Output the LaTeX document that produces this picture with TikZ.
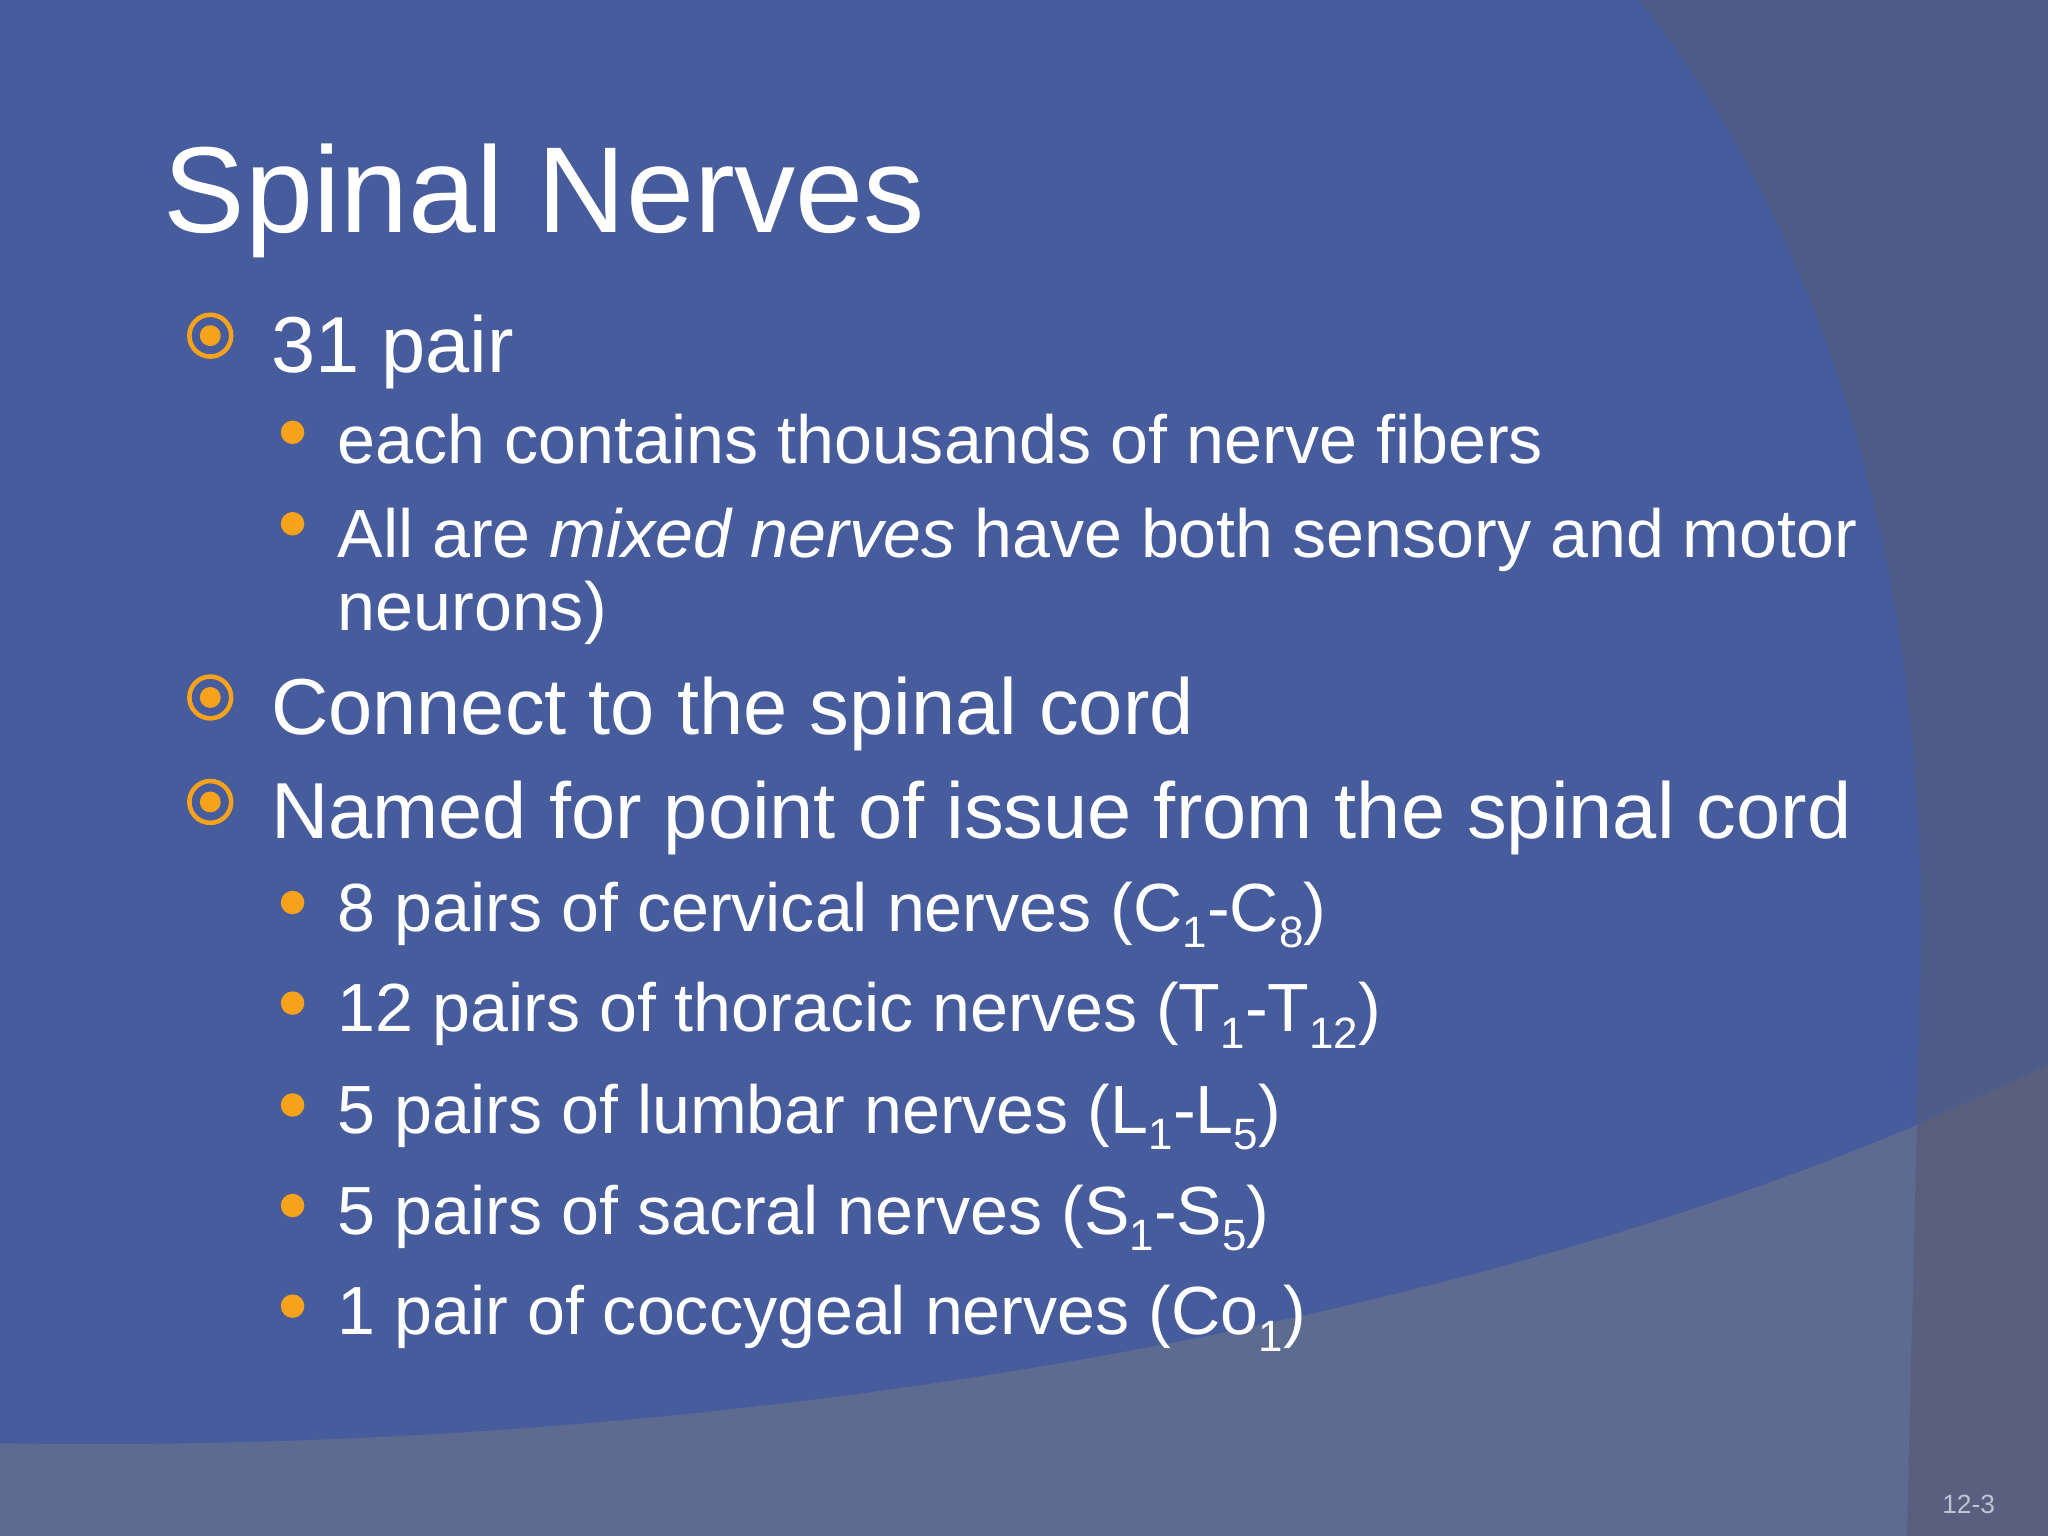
\documentclass[tikz,border=0pt]{standalone}
\usepackage{fontspec}
\setmainfont{Liberation Sans}
\definecolor{bg}{HTML}{465C9C}
\definecolor{rgt}{HTML}{4D5D88}
\definecolor{bot}{HTML}{5E6B91}
\definecolor{ovl}{HTML}{5A5F7E}
\definecolor{org}{HTML}{F7A21B}
\tikzset{
 ttl/.style={anchor=base west,text=white,font=\fontsize{34.8}{38}\selectfont,inner sep=0},
 lone/.style={anchor=base west,text=white,font=\fontsize{22.6}{26}\selectfont,inner sep=0},
 ltwo/.style={anchor=base west,text=white,font=\fontsize{19.4}{22}\selectfont,inner sep=0},
 ringb/.style={draw=org,line width=1.3pt},
}
\newcommand{\sbb}[1]{\raisebox{-0.45ex}{\fontsize{12.5}{13}\selectfont #1}}
\begin{document}
\begin{tikzpicture}[x=0.01306cm,y=-0.01306cm]
\useasboundingbox (0,0) rectangle (1568,1176);
\fill[bg] (0,0) rectangle (1568,1176);
\fill[rgt] (1255,0) .. controls (1400,180) and (1480,450) .. (1470,760) -- (1460,1176) -- (1568,1176) -- (1568,0) -- cycle;
\fill[bot] (0,1105) .. controls (600,1115) and (1200,1000) .. (1568,815) -- (1568,1176) -- (0,1176) -- cycle;
\begin{scope}
\clip (0,1105) .. controls (600,1115) and (1200,1000) .. (1568,815) -- (1568,1176) -- (0,1176) -- cycle;
\fill[ovl] (1255,0) .. controls (1400,180) and (1480,450) .. (1470,760) -- (1460,1176) -- (1568,1176) -- (1568,0) -- cycle;
\end{scope}
\node[ttl] (title) at (125,178) {Spinal Nerves};
\foreach \n/\y in {a/257,b/534,c/614}{
 \draw[ringb] (161,\y) circle (16);
 \fill[org] (161,\y) circle (8);
}
\node[lone] (t1) at (207,285) {31 pair};
\node[lone] (t2) at (207,562) {Connect to the spinal cord};
\node[lone] (t3) at (207,642) {Named for point of issue from the spinal cord};
\foreach \y in {331,401,691,768,846,923,1000}{\fill[org] (224,\y) circle (9);}
\node[ltwo] (s1) at (258,355) {each contains thousands of nerve fibers};
\node[ltwo] (s2) at (258,427) {All are \textit{mixed nerves} have both sensory and motor};
\node[ltwo] (s2b) at (258,483) {neurons)};
\node[ltwo] (s3) at (258,713) {8 pairs of cervical nerves (C\sbb{1}-C\sbb{8})};
\node[ltwo] (s4) at (258,790) {12 pairs of thoracic nerves (T\sbb{1}-T\sbb{12})};
\node[ltwo] (s5) at (258,868) {5 pairs of lumbar nerves (L\sbb{1}-L\sbb{5})};
\node[ltwo] (s6) at (258,945) {5 pairs of sacral nerves (S\sbb{1}-S\sbb{5})};
\node[ltwo] (s7) at (258,1022) {1 pair of coccygeal nerves (Co\sbb{1})};
\node[anchor=base east,text=white!60!bot,font=\fontsize{7.5}{9}\selectfont,inner sep=0] (pg) at (1528,1159) {12-3};
\end{tikzpicture}
\end{document}
